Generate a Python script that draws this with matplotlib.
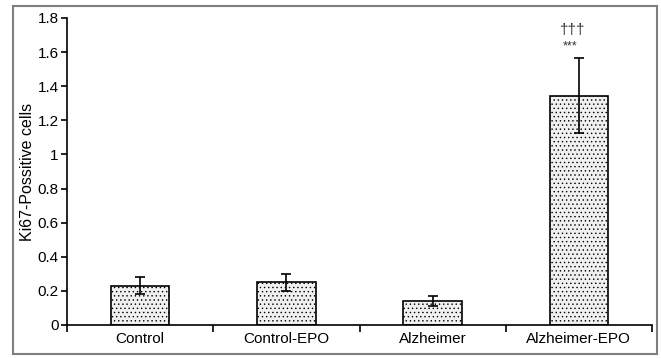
import matplotlib
matplotlib.use('Agg')
import matplotlib.pyplot as plt
from matplotlib.patches import Rectangle
import numpy as np

plt.rcParams['font.family'] = ['Liberation Sans', 'DejaVu Sans']
plt.rcParams['hatch.color'] = '#d2d2d2'
plt.rcParams['hatch.linewidth'] = 0.5

groups = ['Control', 'Control-EPO', 'Alzheimer', 'Alzheimer-EPO']
means = [0.23, 0.25, 0.14, 1.345]
errors = [0.05, 0.05, 0.03, 0.22]
yticks = [0, 0.2, 0.4, 0.6, 0.8, 1.0, 1.2, 1.4, 1.6, 1.8]
ytick_labels = ['0', '0.2', '0.4', '0.6', '0.8', '1', '1.2', '1.4', '1.6', '1.8']

fig = plt.figure(figsize=(6.61, 3.58), dpi=100)
# gray frame around the whole figure
fig.patches.append(Rectangle((13 / 661, 1 - 354 / 358), 644 / 661, 348 / 358,
                             transform=fig.transFigure, fill=False,
                             edgecolor='#7f7f7f', linewidth=1.5))

ax = fig.add_axes([67 / 661, 1 - 325 / 358, 585 / 661, 307 / 358])
x = np.arange(len(groups))
ax.bar(x, means, width=0.4, color='#f0f0f0', edgecolor='black', linewidth=1.2,
       hatch='....', zorder=2)
ax.errorbar(x, means, yerr=errors, fmt='none', ecolor='black', elinewidth=1.2,
            capsize=3.5, capthick=1.2, zorder=3)

ax.text(x[3] - 0.06, 1.60, '***', ha='center', va='bottom', fontsize=9, color='#333333')
ax.text(x[3] - 0.04, 1.69, '\u2020\u2020\u2020', ha='center', va='bottom', fontsize=11, color='#333333')

ax.set_xlim(-0.5, 3.5)
ax.set_ylim(0, 1.8)
ax.set_yticks(yticks)
ax.set_yticklabels(ytick_labels, fontsize=11)
ax.set_xticks(x)
ax.set_xticklabels(groups, fontsize=11)
ax.tick_params(axis='x', length=0, pad=5)
ax.set_xticks(np.arange(-0.5, 4.0, 1.0), minor=True)
ax.tick_params(axis='x', which='minor', length=5, width=1.2, direction='out')
ax.tick_params(axis='y', length=4.5, width=1.2, direction='out', pad=1.5)
ax.spines['top'].set_visible(False)
ax.spines['right'].set_visible(False)
ax.spines['left'].set_linewidth(1.2)
ax.spines['bottom'].set_linewidth(1.2)
ax.set_ylabel('Ki67-Possitive cells', fontsize=11.5)
ax.yaxis.set_label_coords(-0.055, 0.5)

fig.savefig('out.png', dpi=100)
